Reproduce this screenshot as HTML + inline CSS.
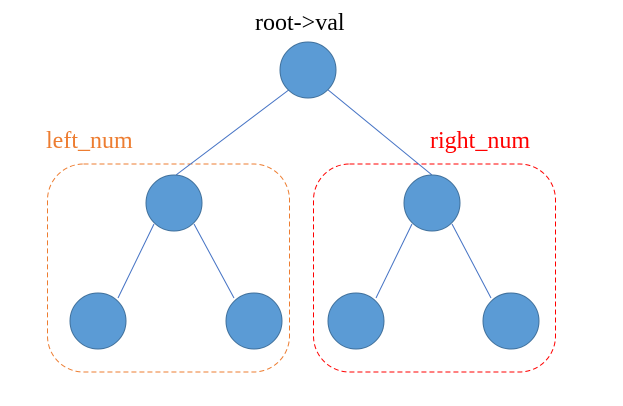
<!DOCTYPE html>
<html><head><style>html,body{margin:0;padding:0;background:#fff}text{font-family:"Liberation Serif",serif;font-size:24px}</style></head><body>
<svg width="623" height="401" xmlns="http://www.w3.org/2000/svg">
<rect x="47.5" y="164" width="242" height="208" rx="36" fill="none" stroke="#ED7D31" stroke-width="1" stroke-dasharray="5,3"/>
<rect x="313.5" y="164" width="242" height="208" rx="36" fill="none" stroke="#FF0000" stroke-width="1" stroke-dasharray="5,3"/>
<g stroke="#4472C4" stroke-width="1">
<line x1="290" y1="89" x2="176" y2="175"/>
<line x1="327" y1="89" x2="432" y2="175"/>
<line x1="154" y1="224" x2="118" y2="298"/>
<line x1="194" y1="224" x2="234" y2="298"/>
<line x1="412" y1="224" x2="376" y2="298"/>
<line x1="452" y1="224" x2="491" y2="298"/>
</g>
<g fill="#5B9BD5" stroke="#41719C" stroke-width="1">
<circle cx="308" cy="70" r="28"/>
<circle cx="174" cy="203" r="28"/>
<circle cx="432" cy="203" r="28"/>
<circle cx="98" cy="321" r="28"/>
<circle cx="254" cy="321" r="28"/>
<circle cx="356" cy="321" r="28"/>
<circle cx="511" cy="321" r="28"/>
</g>
<text x="255" y="30" fill="#000">root-&gt;val</text>
<text x="46" y="148" fill="#ED7D31">left_num</text>
<text x="430" y="148" fill="#FF0000">right_num</text>
</svg>
</body></html>
